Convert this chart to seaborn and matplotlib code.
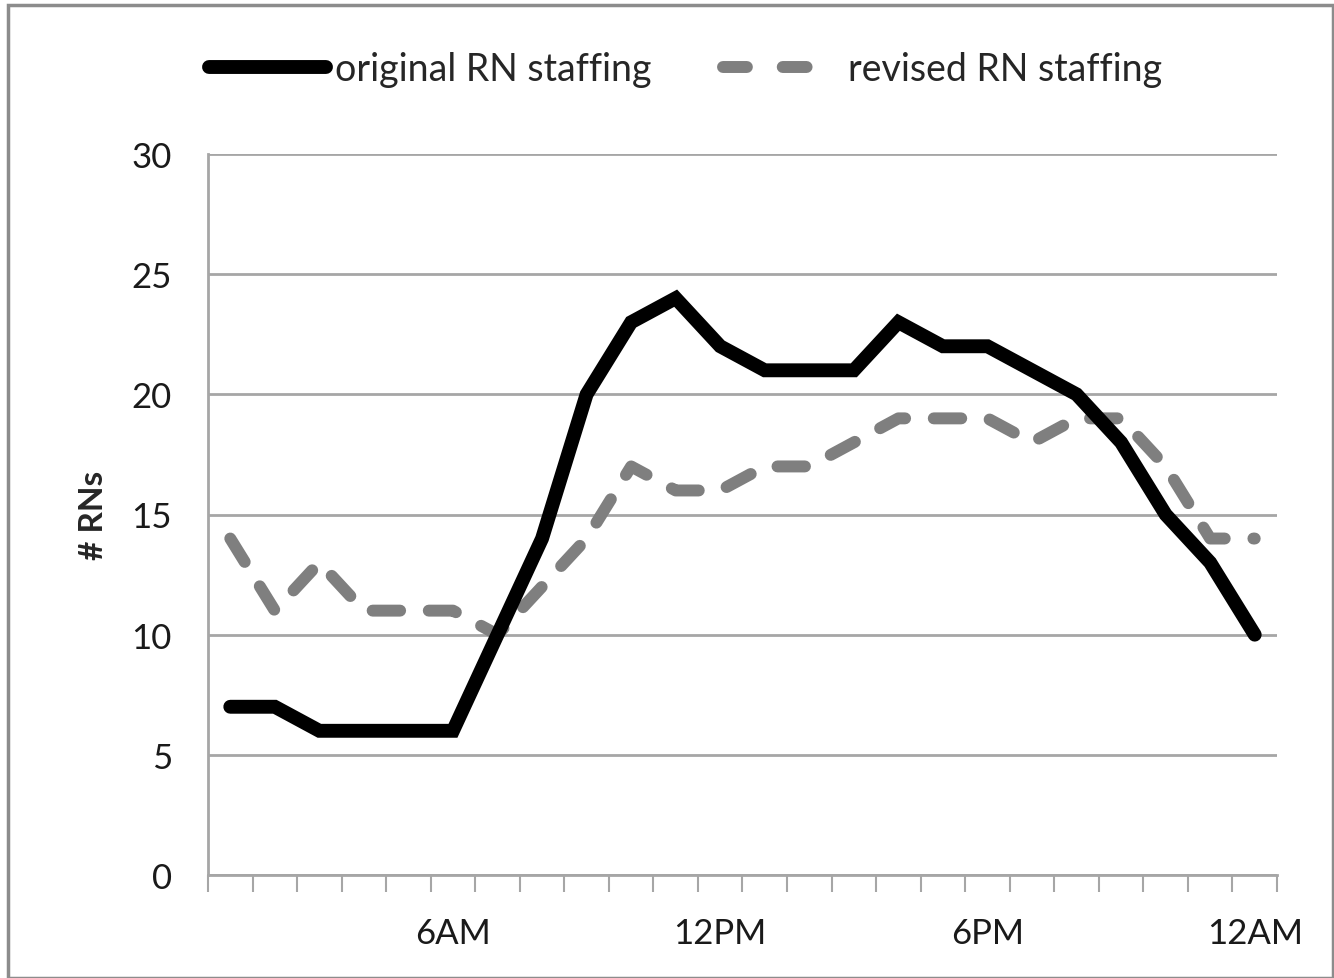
import numpy as np
import pandas as pd
import matplotlib
matplotlib.use('Agg')
import matplotlib.pyplot as plt
import seaborn as sns
from matplotlib.patches import Rectangle
from matplotlib.lines import Line2D

# hours of the day (1AM .. 12AM)
hours = list(range(1, 25))
original_rn = [7, 7, 6, 6, 6, 6, 10, 14, 20, 23, 24, 22, 21, 21, 21, 23,
               22, 22, 21, 20, 18, 15, 13, 10]
revised_rn = [14, 11, 13, 11, 11, 11, 10, 12, 14, 17, 16, 16, 17, 17, 18, 19,
              19, 19, 18, 19, 19, 17, 14, 14]
tick_hours = [6, 12, 18, 24]
tick_labels = ['6AM', '12PM', '6PM', '12AM']
y_ticks = [0, 5, 10, 15, 20, 25, 30]

df = pd.DataFrame({'hour': hours * 2,
                   'RNs': original_rn + revised_rn,
                   'series': ['original RN staffing'] * 24 + ['revised RN staffing'] * 24})

sns.set_theme(style='white')
plt.rcParams['font.family'] = ['Lato', 'DejaVu Sans']

fig = plt.figure(figsize=(13.34, 9.79), dpi=100)
ax = fig.add_axes([208 / 1334, 103 / 979, 1069 / 1334, 721 / 979])

sns.lineplot(data=df, x='hour', y='RNs', hue='series', style='series',
             palette={'original RN staffing': 'black', 'revised RN staffing': '#7f7f7f'},
             dashes={'original RN staffing': '', 'revised RN staffing': (2.3, 2.4)},
             ax=ax, legend=False)
lines = ax.get_lines()
lines[0].set_linewidth(10)
lines[0].set_solid_capstyle('round')
lines[0].set_solid_joinstyle('miter')
lines[1].set_linewidth(8.6)
lines[1].set_dash_capstyle('round')
lines[1].set_zorder(1)
lines[0].set_zorder(2)

ax.set_xlim(0.5, 24.5)
ax.set_ylim(0, 30)
ax.set_yticks(y_ticks)
ax.yaxis.grid(True, color='#a6a6a6', linewidth=2)
ax.set_axisbelow(True)
ax.tick_params(axis='y', length=0, labelsize=25, pad=26, colors='#1a1a1a')

ax.set_xticks(tick_hours)
ax.set_xticklabels(tick_labels)
ax.set_xticks(np.arange(0.5, 25, 1), minor=True)
ax.tick_params(axis='x', which='major', length=0, labelsize=25, pad=30, colors='#1a1a1a')
ax.tick_params(axis='x', which='minor', length=12, width=1.5, color='#a6a6a6', direction='out', bottom=True)

for side in ['top', 'right']:
    ax.spines[side].set_visible(False)
for side in ['left', 'bottom']:
    ax.spines[side].set_color('#a6a6a6')
    ax.spines[side].set_linewidth(2)

ax.set_xlabel('')
ax.set_ylabel('# RNs', fontsize=24, fontweight='bold', labelpad=17)

# legend across the top
handles = [Line2D([], [], color='black', linewidth=10, solid_capstyle='round'),
           Line2D([], [], color='#7f7f7f', linewidth=8.6, dashes=(2.0, 3.0), dash_capstyle='round')]
fig.legend(handles, ['original RN staffing', 'revised RN staffing'],
           loc='center', bbox_to_anchor=(686 / 1334, 1 - 70 / 979), ncol=2,
           frameon=False, fontsize=27, handlelength=3.1, handletextpad=0.25,
           columnspacing=1.9)

# outer chart border
fig.patches.append(Rectangle((8 / 1334, 0), 1 - 8 / 1334 - 0.001, 1 - 6 / 979,
                             transform=fig.transFigure, fill=False,
                             edgecolor='#8c8c8c', linewidth=2.5))

fig.savefig('out.png', dpi=100, facecolor='white')
